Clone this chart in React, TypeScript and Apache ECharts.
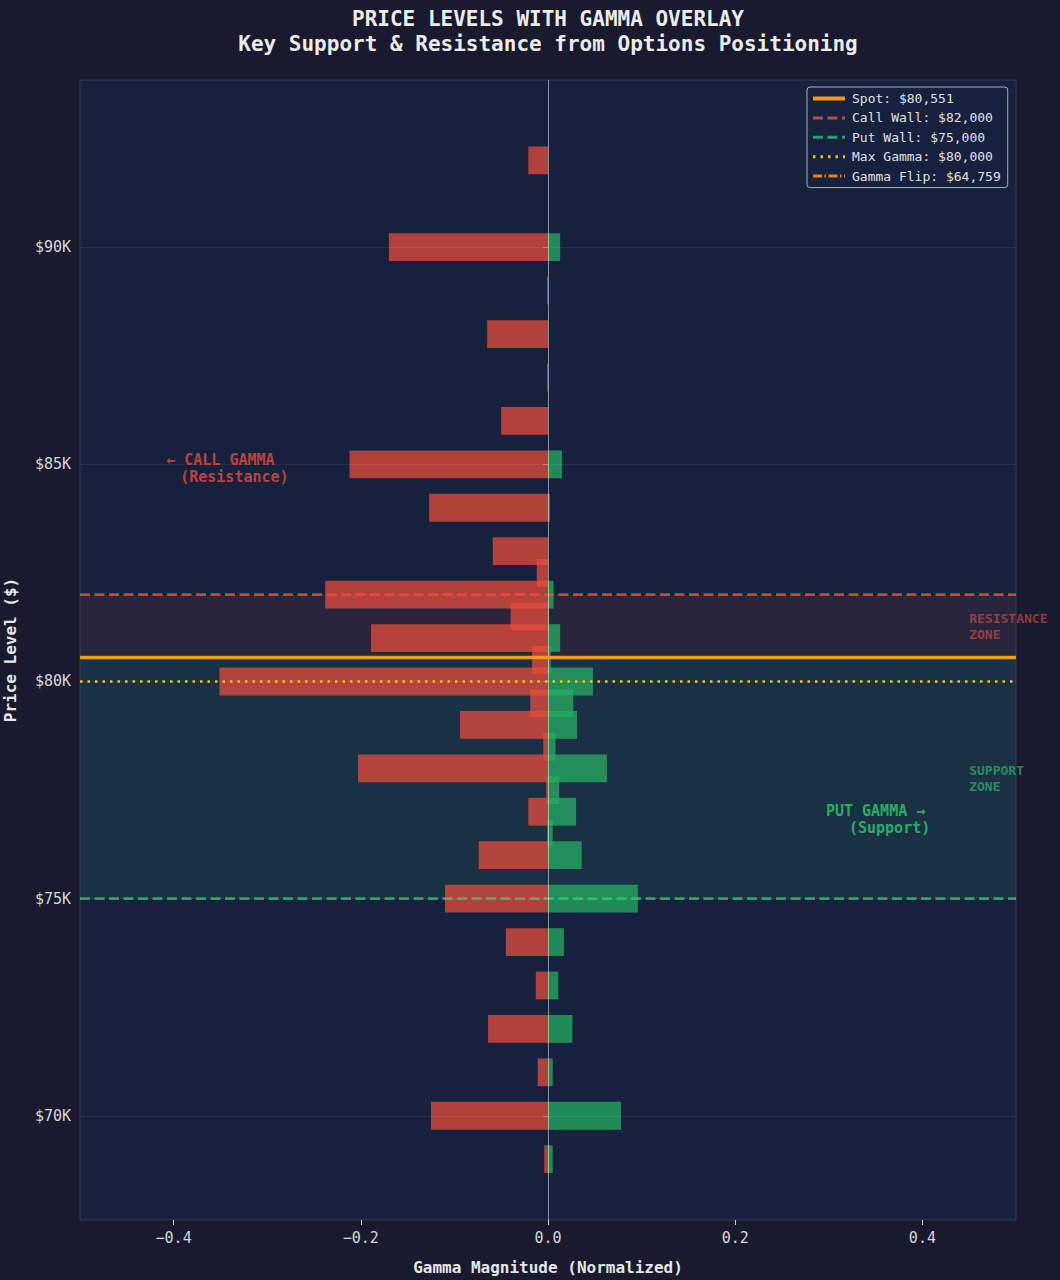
import React, { useEffect, useRef } from "react";
import * as echarts from "echarts";

// ---- data ----
const strikes = [
  69000, 70000, 71000, 72000, 73000, 74000, 75000, 76000, 76500, 77000, 77500,
  78000, 78500, 79000, 79500, 80000, 80500, 81000, 81500, 82000, 82500, 83000,
  84000, 85000, 86000, 87000, 88000, 89000, 90000, 91000, 92000,
];
const callGamma = [
  -0.004, -0.125, -0.011, -0.064, -0.013, -0.045, -0.11, -0.074, -0.001, -0.021, -0.002,
  -0.203, -0.005, -0.094, -0.019, -0.351, -0.017, -0.189, -0.04, -0.238, -0.012, -0.059,
  -0.127, -0.212, -0.05, -0.001, -0.065, -0.001, -0.17, 0, -0.021,
];
const putGamma = [
  0.005, 0.078, 0.005, 0.026, 0.011, 0.017, 0.096, 0.036, 0.005, 0.03, 0.012,
  0.063, 0.008, 0.031, 0.027, 0.048, 0.003, 0.013, 0.001, 0.006, 0, 0,
  0.002, 0.015, 0, 0, 0, 0, 0.013, 0, 0,
];
const SPOT = 80551;
const CALL_WALL = 82000;
const PUT_WALL = 75000;
const MAX_GAMMA = 80000;
const GAMMA_FLIP = 64759;
const xTicks = [-0.4, -0.2, 0, 0.2, 0.4];
const yTicks = [70000, 75000, 80000, 85000, 90000];

const X_MIN = -0.5;
const X_MAX = 0.5;
const Y_MIN = 67600;
const Y_MAX = 93850;
const BAR_HEIGHT = 640;

const FONT = "DejaVu Sans Mono";
const fmtUsd = (v: number) => "$" + v.toLocaleString("en-US");

export default function App() {
  const ref = useRef<HTMLDivElement>(null);

  useEffect(() => {
    document.body.style.margin = "0";
    document.body.style.background = "#1a1a2e";
    const chart = echarts.init(ref.current!, null, { renderer: "svg" });

    const barSeries = (name: string, values: number[], color: string) => ({
      type: "custom",
      name,
      clip: true,
      z: 2,
      silent: true,
      data: strikes.map((s, i) => [values[i], s]),
      encode: { x: 0, y: 1 },
      renderItem: (_p: any, api: any) => {
        const v = api.value(0);
        const s = api.value(1);
        const a = api.coord([0, s + BAR_HEIGHT / 2]);
        const b = api.coord([v, s - BAR_HEIGHT / 2]);
        return {
          type: "rect",
          shape: {
            x: Math.min(a[0], b[0]),
            y: Math.min(a[1], b[1]),
            width: Math.abs(b[0] - a[0]),
            height: Math.abs(b[1] - a[1]),
          },
          style: { fill: color, opacity: 0.75 },
        };
      },
    });

    const levelLine = (name: string, y: number, color: string, width: number, type: any, z: number) => ({
      type: "line",
      name,
      data: [
        [X_MIN, y],
        [X_MAX, y],
      ],
      symbol: "none",
      silent: true,
      clip: true,
      z,
      lineStyle: { color, width, type },
      itemStyle: { color },
    });

    const names = {
      spot: `Spot: ${fmtUsd(SPOT)}`,
      call: `Call Wall: ${fmtUsd(CALL_WALL)}`,
      put: `Put Wall: ${fmtUsd(PUT_WALL)}`,
      max: `Max Gamma: ${fmtUsd(MAX_GAMMA)}`,
      flip: `Gamma Flip: ${fmtUsd(GAMMA_FLIP)}`,
    };

    const option: any = {
      animation: false,
      backgroundColor: "#1a1a2e",
      textStyle: { fontFamily: FONT },
      graphic: [
        {
          type: "text",
          x: 548,
          y: 19,
          style: {
            text: "PRICE LEVELS WITH GAMMA OVERLAY",
            fill: "#ececec",
            font: `bold 21px "${FONT}"`,
            align: "center",
            verticalAlign: "middle",
          },
        },
        {
          type: "text",
          x: 548,
          y: 44,
          style: {
            text: "Key Support & Resistance from Options Positioning",
            fill: "#ececec",
            font: `bold 21px "${FONT}"`,
            align: "center",
            verticalAlign: "middle",
          },
        },
      ],
      grid: {
        left: 80,
        right: 44,
        top: 80,
        bottom: 60,
        show: true,
        backgroundColor: "#16213e",
        borderColor: "rgba(255,255,255,0.13)",
        borderWidth: 1,
        containLabel: false,
        outerBoundsMode: "none",
      },
      legend: {
        orient: "vertical",
        left: 807,
        top: 87,
        padding: [5, 7, 5, 4],
        itemWidth: 32,
        itemHeight: 14,
        itemGap: 6.4,
        backgroundColor: "rgba(22,33,62,0.9)",
        borderColor: "rgba(220,220,220,0.75)",
        borderWidth: 1,
        borderRadius: 3,
        selectedMode: false,
        itemStyle: { opacity: 0 },
        textStyle: { color: "#e0e0e0", fontSize: 13, fontFamily: FONT, padding: [0, 0, 0, 2] },
        data: [
          { name: names.spot, lineStyle: { width: 4 } },
          { name: names.call, lineStyle: { width: 3 } },
          { name: names.put, lineStyle: { width: 3 } },
          { name: names.max, lineStyle: { width: 3 } },
          { name: names.flip, lineStyle: { width: 3 } },
        ],
      },
      xAxis: {
        type: "value",
        min: X_MIN,
        max: X_MAX,
        name: "Gamma Magnitude (Normalized)",
        nameLocation: "middle",
        nameGap: 39,
        nameTextStyle: { color: "#e6e6e6", fontSize: 16, fontWeight: "bold", fontFamily: FONT },
        axisLine: { show: false },
        splitLine: { show: false },
        axisTick: { show: true, customValues: xTicks, length: 5, lineStyle: { color: "#cfcfcf" } },
        axisLabel: {
          customValues: xTicks,
          color: "#d6d6d6",
          fontSize: 15,
          fontFamily: FONT,
          margin: 10,
          formatter: (v: number) => (v < 0 ? "\u2212" + Math.abs(v).toFixed(1) : v.toFixed(1)),
        },
      },
      yAxis: {
        type: "value",
        min: Y_MIN,
        max: Y_MAX,
        name: "Price Level ($)",
        nameLocation: "middle",
        nameRotate: 90,
        nameGap: 62,
        nameTextStyle: { color: "#e6e6e6", fontSize: 16, fontWeight: "bold", fontFamily: FONT },
        axisLine: { show: false },
        splitLine: { show: false },
        axisTick: { show: true, customValues: yTicks, length: 5, lineStyle: { color: "#cfcfcf" } },
        axisLabel: {
          customValues: yTicks,
          color: "#d6d6d6",
          fontSize: 15,
          fontFamily: FONT,
          margin: 9,
          formatter: (v: number) => "$" + Math.round(v / 1000) + "K",
        },
      },
      series: [
        // zones + gridlines
        {
          type: "line",
          name: "zones",
          data: [[X_MIN, Y_MIN]],
          symbol: "none",
          silent: true,
          z: 1,
          lineStyle: { opacity: 0 },
          markArea: {
            silent: true,
            data: [
              [{ yAxis: SPOT, itemStyle: { color: "rgba(231,76,60,0.09)" } }, { yAxis: CALL_WALL }],
              [{ yAxis: PUT_WALL, itemStyle: { color: "rgba(46,204,113,0.1)" } }, { yAxis: SPOT }],
            ],
          },
          markLine: {
            silent: true,
            symbol: "none",
            label: { show: false },
            lineStyle: { color: "rgba(255,255,255,0.06)", width: 1, type: "solid" },
            data: yTicks.map((t) => ({ yAxis: t })),
          },
        },
        barSeries("Call Gamma", callGamma, "#e74c3c"),
        barSeries("Put Gamma", putGamma, "#27ae60"),
        {
          type: "line",
          name: "zero",
          data: [[X_MIN, Y_MIN]],
          symbol: "none",
          silent: true,
          z: 3,
          lineStyle: { opacity: 0 },
          markLine: {
            silent: true,
            symbol: "none",
            label: { show: false },
            lineStyle: { color: "rgba(255,255,255,0.5)", width: 1, type: "solid" },
            data: [{ xAxis: 0 }],
          },
        },
        levelLine(names.call, CALL_WALL, "rgba(231,76,60,0.85)", 2.6, [10, 4.5], 4),
        levelLine(names.put, PUT_WALL, "rgba(46,204,113,0.75)", 2.6, [10, 4.5], 4),
        levelLine(names.max, MAX_GAMMA, "#f1c40f", 2.4, [2.5, 5], 4),
        levelLine(names.flip, GAMMA_FLIP, "#e67e22", 2.6, [9, 2.5, 1.5, 2.5], 4),
        levelLine(names.spot, SPOT, "#f39c12", 3.5, "solid", 5),
        {
          type: "scatter",
          name: "annotations",
          symbolSize: 0,
          silent: true,
          z: 6,
          data: [
            {
              value: [-0.35, 84900],
              label: {
                show: true,
                position: "inside",
                align: "center",
                verticalAlign: "middle",
                formatter: "{a|\u2190 CALL GAMMA}\n{b|(Resistance)}",
                rich: {
                  a: { color: "#e74c3c", fontSize: 15, fontWeight: "bold", fontFamily: FONT, lineHeight: 17 },
                  b: { color: "#e74c3c", fontSize: 15, fontWeight: "bold", fontFamily: FONT, lineHeight: 17, padding: [0, 0, 0, 28] },
                },
              },
            },
            {
              value: [0.35, 76820],
              label: {
                show: true,
                position: "inside",
                align: "center",
                verticalAlign: "middle",
                formatter: "{a|PUT GAMMA \u2192}\n{b|(Support)}",
                rich: {
                  a: { color: "#2ecc71", fontSize: 15, fontWeight: "bold", fontFamily: FONT, lineHeight: 17 },
                  b: { color: "#2ecc71", fontSize: 15, fontWeight: "bold", fontFamily: FONT, lineHeight: 17, padding: [0, 0, 0, 28] },
                },
              },
            },
            {
              value: [0.45, (SPOT + CALL_WALL) / 2],
              label: {
                show: true,
                position: "inside",
                align: "left",
                verticalAlign: "middle",
                formatter: "RESISTANCE\nZONE",
                color: "rgba(231,76,60,0.75)",
                fontSize: 13,
                fontWeight: "bold",
                fontFamily: FONT,
                lineHeight: 16,
              },
            },
            {
              value: [0.45, (PUT_WALL + SPOT) / 2],
              label: {
                show: true,
                position: "inside",
                align: "left",
                verticalAlign: "middle",
                formatter: "SUPPORT\nZONE",
                color: "rgba(46,204,113,0.75)",
                fontSize: 13,
                fontWeight: "bold",
                fontFamily: FONT,
                lineHeight: 16,
              },
            },
          ],
        },
      ],
    };

    chart.setOption(option);
    return () => chart.dispose();
  }, []);

  return <div ref={ref} style={{ width: 1060, height: 1280, background: "#1a1a2e" }} />;
}
